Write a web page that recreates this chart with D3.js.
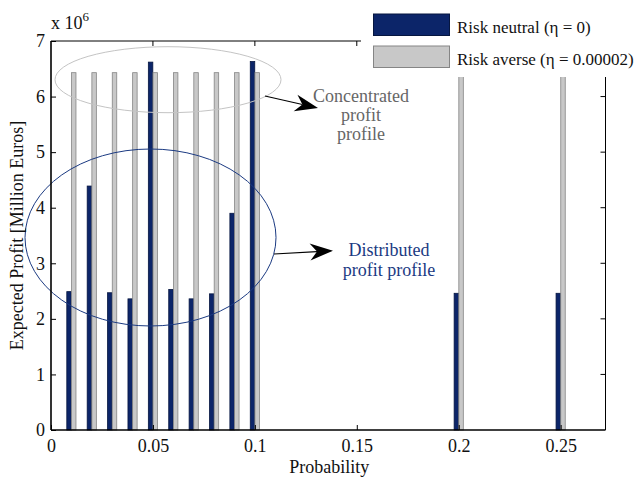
<!DOCTYPE html>
<html>
<head>
<meta charset="utf-8">
<script src="https://cdn.jsdelivr.net/npm/d3@7"></script>
<style>
  html, body { margin: 0; padding: 0; background: #fff; }
  svg { display: block; font-family: "Liberation Serif", "Times New Roman", serif; }
</style>
</head>
<body>
<svg id="chart" width="641" height="478"></svg>
<script>
// Expected profit (x 10^6 Euros) at each probability level
const probabilities = [0.01, 0.02, 0.03, 0.04, 0.05, 0.06, 0.07, 0.08, 0.09, 0.10, 0.20, 0.25];
const riskNeutral   = [2.49, 4.39, 2.47, 2.36, 6.62, 2.53, 2.36, 2.45, 3.90, 6.63, 2.46, 2.46];
const riskAverse    = [6.43, 6.43, 6.43, 6.43, 6.43, 6.43, 6.43, 6.43, 6.43, 6.43, 6.43, 6.43];
const seriesNames   = ["Risk neutral (\u03b7 = 0)", "Risk averse (\u03b7 = 0.00002)"];
const xTicks = [0, 0.05, 0.1, 0.15, 0.2, 0.25];
const yTicks = [0, 1, 2, 3, 4, 5, 6, 7];

const navy = "#0c2569", navyEdge = "#061640";
const grey = "#c8c8c8", greyEdge = "#858585";
const FS = 18;

const svg = d3.select("#chart");
const L = 51, R = 605.5, T = 41, B = 430;

const x = d3.scaleLinear().domain([0, 0.272]).range([L, R]);
const y = d3.scaleLinear().domain([0, 7]).range([B, T]);

const barW = 0.0022;   // bar width in probability units
const offs = [-0.00115, 0.00115];

const plot = svg.append("g");

// bars
[riskNeutral, riskAverse].forEach((vals, s) => {
  plot.selectAll(null)
    .data(probabilities.map((p, i) => ({p, v: vals[i]})))
    .enter().append("rect")
    .attr("x", d => x(d.p + offs[s] - barW / 2))
    .attr("width", d => x(d.p + offs[s] + barW / 2) - x(d.p + offs[s] - barW / 2))
    .attr("y", d => y(d.v))
    .attr("height", d => y(0) - y(d.v))
    .attr("fill", s === 0 ? navy : grey)
    .attr("stroke", s === 0 ? navyEdge : greyEdge)
    .attr("stroke-width", 0.8);
});

// annotation ellipses
svg.append("ellipse")
  .attr("cx", 168).attr("cy", 79.7).attr("rx", 113).attr("ry", 33)
  .attr("fill", "none").attr("stroke", "#c4c4c4").attr("stroke-width", 1);
svg.append("ellipse")
  .attr("cx", 150.5).attr("cy", 237.5).attr("rx", 125.5).attr("ry", 88.5)
  .attr("fill", "none").attr("stroke", "#1b3a82").attr("stroke-width", 1);

// arrows
function arrow(x1, y1, x2, y2) {
  const a = Math.atan2(y2 - y1, x2 - x1);
  const len = 23, half = 8.5, notch = 16;
  const g = svg.append("g");
  const bx = x2 - notch * Math.cos(a), by = y2 - notch * Math.sin(a);
  g.append("line").attr("x1", x1).attr("y1", y1).attr("x2", bx).attr("y2", by)
    .attr("stroke", "#000").attr("stroke-width", 1.2);
  const px = -Math.sin(a), py = Math.cos(a);
  const tx = x2 - len * Math.cos(a), ty = y2 - len * Math.sin(a);
  g.append("path")
    .attr("d", `M${x2},${y2} L${tx + half * px},${ty + half * py} L${bx},${by} L${tx - half * px},${ty - half * py} Z`)
    .attr("fill", "#000");
}
arrow(265, 96, 318, 108);
arrow(274, 254, 333, 250.7);

// annotation text
const conc = svg.append("text").attr("text-anchor", "middle").attr("fill", "#666")
  .attr("font-size", FS);
["Concentrated", "profit", "profile"].forEach((t, i) =>
  conc.append("tspan").attr("x", 361).attr("y", 102 + i * 19).text(t));
const dist = svg.append("text").attr("text-anchor", "middle").attr("fill", "#1b3a82")
  .attr("font-size", FS);
["Distributed", "profit profile"].forEach((t, i) =>
  dist.append("tspan").attr("x", 389).attr("y", 256 + i * 20).text(t));

// legend (white panel sitting over the top-right of the axes)
const leg = svg.append("g");
leg.append("rect").attr("x", 361).attr("y", 0).attr("width", 280).attr("height", 77).attr("fill", "#fff");
[[navy, navyEdge], [grey, greyEdge]].forEach((c, i) => {
  leg.append("rect").attr("x", 373.5).attr("y", 14 + i * 32).attr("width", 76).attr("height", 21.5)
    .attr("fill", c[0]).attr("stroke", c[1]).attr("stroke-width", 1);
  leg.append("text").attr("x", 457).attr("y", 33 + i * 32).attr("font-size", 17)
    .attr("fill", "#111").text(seriesNames[i]);
});

// axes box
const ax = svg.append("g").attr("stroke", "#000").attr("fill", "none");
ax.append("line").attr("x1", L).attr("x2", 361).attr("y1", T).attr("y2", T).attr("stroke-width", 1);
ax.append("line").attr("x1", R).attr("x2", R).attr("y1", 77).attr("y2", B).attr("stroke-width", 1);

const xAxis = svg.append("g").attr("transform", `translate(0,${B})`)
  .call(d3.axisBottom(x).tickValues(xTicks).tickSize(-5).tickPadding(9)
    .tickFormat(d => d === 0 ? "0" : String(+d.toFixed(2))));
const yAxis = svg.append("g").attr("transform", `translate(${L},0)`)
  .call(d3.axisLeft(y).tickValues(yTicks).tickSize(-5).tickPadding(6).tickFormat(d3.format("d")));
[xAxis, yAxis].forEach(g => {
  g.select(".domain").attr("stroke-width", 1.6).attr("stroke", "#000");
  g.selectAll(".tick line").attr("stroke", "#000");
  g.selectAll("text").attr("font-family", "Liberation Serif, Times New Roman, serif")
    .attr("font-size", FS).attr("fill", "#111");
});
xAxis.select(".domain").attr("d", `M${L},0H${R}`);
yAxis.select(".domain").attr("d", `M0,${B}V${T}`);

// mirrored ticks on top and right edges (skip those under the legend)
xTicks.forEach(t => {
  if (x(t) < 361 && t > 0) ax.append("line").attr("x1", x(t)).attr("x2", x(t)).attr("y1", T).attr("y2", T + 5);
});
yTicks.forEach(t => {
  if (y(t) > 77 && t > 0) ax.append("line").attr("x1", R).attr("x2", R - 5).attr("y1", y(t)).attr("y2", y(t));
});

// exponent label
const ex = svg.append("text").attr("x", 51).attr("y", 29).attr("font-size", FS).attr("fill", "#111");
ex.append("tspan").text("x 10");
ex.append("tspan").attr("font-size", 13).attr("dy", -8).text("6");

// axis titles
svg.append("text").attr("x", (L + R) / 2 + 1).attr("y", 473).attr("text-anchor", "middle")
  .attr("font-size", FS).attr("fill", "#111").text("Probability");
svg.append("text").attr("transform", `translate(23,${(T + B) / 2}) rotate(-90)`)
  .attr("text-anchor", "middle").attr("font-size", FS).attr("fill", "#111")
  .text("Expected Profit [Million Euros]");
</script>
</body>
</html>
